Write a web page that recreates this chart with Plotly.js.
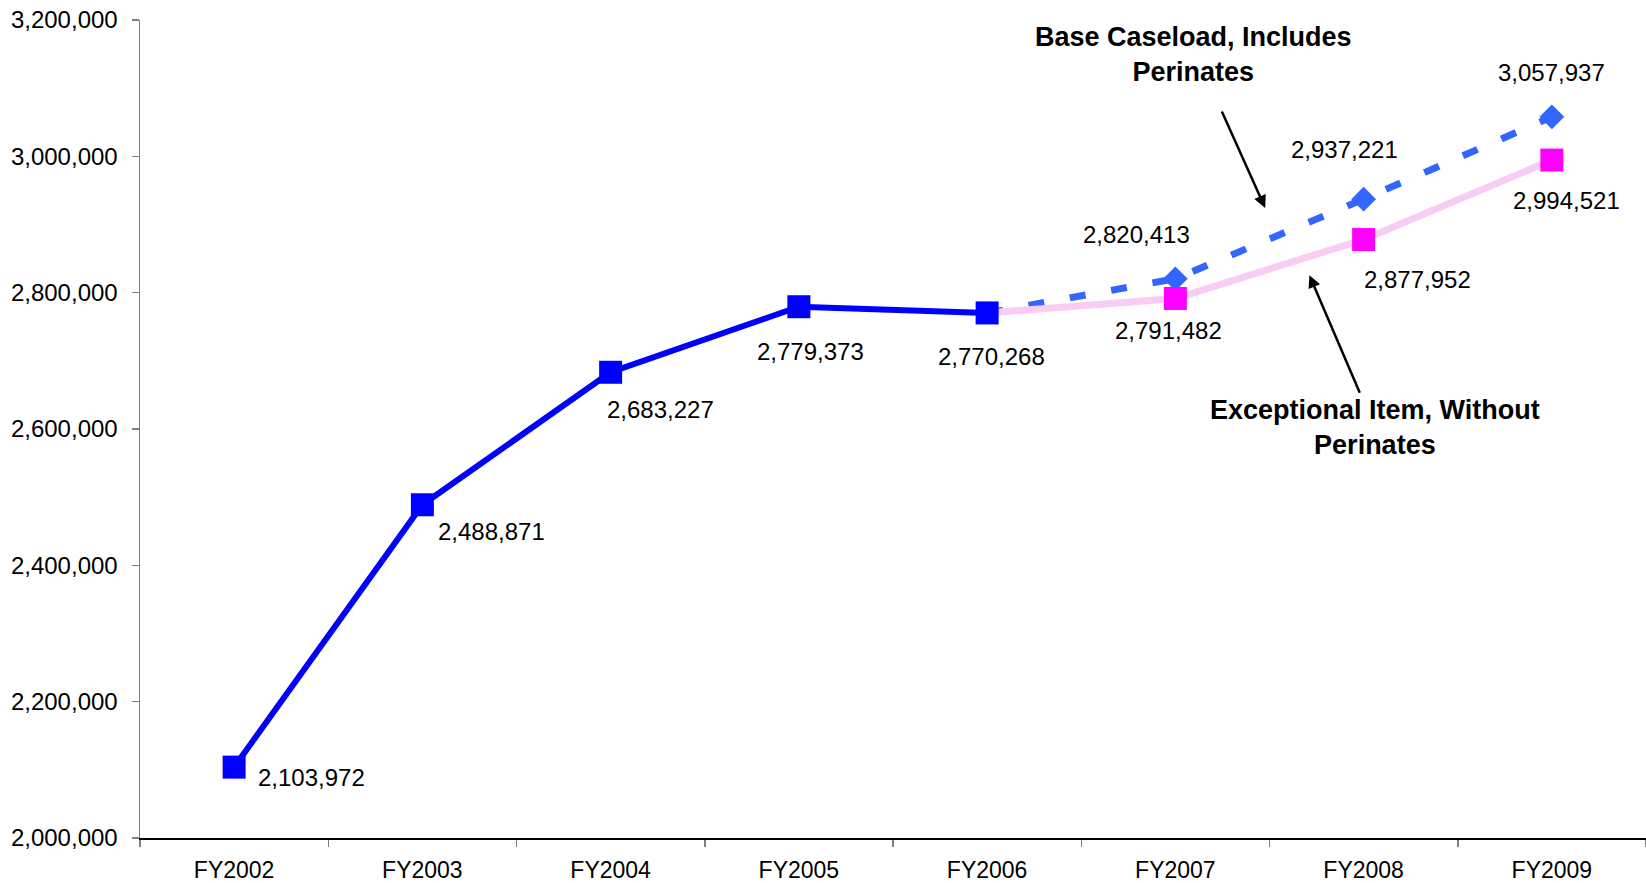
<!DOCTYPE html>
<html>
<head>
<meta charset="utf-8">
<script src="https://cdn.plot.ly/plotly-3.0.1.min.js"></script>
<style>
  html, body { margin: 0; padding: 0; background: #fff; }
  #chart { width: 1646px; height: 883px; }
</style>
</head>
<body>
<div id="chart"></div>
<script>
// Fiscal years on the category axis
const fiscalYears = ['FY2002', 'FY2003', 'FY2004', 'FY2005', 'FY2006', 'FY2007', 'FY2008', 'FY2009'];

// Actual caseload, FY2002 - FY2006
const actualYears = ['FY2002', 'FY2003', 'FY2004', 'FY2005', 'FY2006'];
const actualCaseload = [2103972, 2488871, 2683227, 2779373, 2770268];

// Projections start from the FY2006 actual
const projectionYears = ['FY2006', 'FY2007', 'FY2008', 'FY2009'];
const baseCaseload = [2770268, 2820413, 2937221, 3057937];
const exceptionalCaseload = [2770268, 2791482, 2877952, 2994521];

// Y axis ticks
const yTickValues = [2000000, 2200000, 2400000, 2600000, 2800000, 3000000, 3200000];

// Label placement (pixels right / down from each point)
const actualLabelOffsets = [[77, 10], [69, 27], [50, 37], [12, 45], [4, 44]];
const baseLabelOffsets = [null, [-39, -44], [-19, -50], [0, -44]];
const exceptionalLabelOffsets = [null, [-7, 32], [54, 40], [15, 40]];

const FONT = 'Liberation Sans, Arial, sans-serif';
const fmt = v => v.toLocaleString('en-US');

const traces = [
  {
    x: projectionYears, y: baseCaseload, type: 'scatter', mode: 'lines+markers',
    name: 'Base Caseload, Includes Perinates',
    line: { color: '#3366FF', width: 7, dash: '16px,26px' },
    marker: { symbol: 'diamond', size: 19, color: '#3366FF',
              opacity: [0, 1, 1, 1] }
  },
  {
    x: projectionYears, y: exceptionalCaseload, type: 'scatter', mode: 'lines+markers',
    name: 'Exceptional Item, Without Perinates',
    line: { color: '#F9CCF4', width: 7 },
    marker: { symbol: 'square', size: 23, color: '#FF00FF',
              opacity: [0, 1, 1, 1] }
  },
  {
    x: actualYears, y: actualCaseload, type: 'scatter', mode: 'lines+markers',
    name: 'Caseload',
    line: { color: '#0000FF', width: 6 },
    marker: { symbol: 'square', size: 23, color: '#0000FF' }
  }
];

const annotations = [];
function addLabels(xs, ys, offsets) {
  xs.forEach((x, i) => {
    const off = offsets[i];
    if (!off) return;
    annotations.push({
      x: x, y: ys[i], xref: 'x', yref: 'y', text: fmt(ys[i]), showarrow: false,
      xanchor: 'center', yanchor: 'middle', xshift: off[0], yshift: -off[1],
      font: { family: FONT, size: 24, color: '#000' }
    });
  });
}
addLabels(actualYears, actualCaseload, actualLabelOffsets);
addLabels(projectionYears, baseCaseload, baseLabelOffsets);
addLabels(projectionYears, exceptionalCaseload, exceptionalLabelOffsets);

// Callout captions
annotations.push({
  x: 5.095, y: 3150000, xref: 'x', yref: 'y', showarrow: false,
  text: 'Base Caseload, Includes<br>Perinates', align: 'center',
  xanchor: 'center', yanchor: 'middle',
  font: { family: FONT, size: 27, color: '#000', weight: 700 }
});
annotations.push({
  x: 6.062, y: 2601500, xref: 'x', yref: 'y', showarrow: false,
  text: 'Exceptional Item, Without<br>Perinates', align: 'center',
  xanchor: 'center', yanchor: 'middle',
  font: { family: FONT, size: 27, color: '#000', weight: 700 }
});

// Callout arrows
annotations.push({
  x: 5.477, y: 2924300, xref: 'x', yref: 'y', text: '', showarrow: true,
  ax: -44, ay: -98, arrowhead: 2, arrowsize: 1, arrowwidth: 2.5, arrowcolor: '#000', standoff: 0
});
annotations.push({
  x: 5.712, y: 2825700, xref: 'x', yref: 'y', text: '', showarrow: true,
  ax: 51, ay: 119, arrowhead: 2, arrowsize: 1, arrowwidth: 2.5, arrowcolor: '#000', standoff: 0
});

const layout = {
  width: 1646, height: 883,
  margin: { l: 140, r: 0, t: 20, b: 45 },
  paper_bgcolor: '#fff', plot_bgcolor: '#fff',
  showlegend: false,
  font: { family: FONT, size: 24, color: '#000' },
  xaxis: {
    type: 'category', categoryorder: 'array', categoryarray: fiscalYears,
    range: [-0.5, 7.5], fixedrange: true,
    showline: true, linecolor: '#000', linewidth: 1.5,
    showgrid: false, zeroline: false,
    ticks: 'outside', tickson: 'boundaries', ticklen: 7, tickwidth: 1.5, tickcolor: '#808080',
    ticklabelstandoff: 11,
    tickfont: { family: FONT, size: 23, color: '#000' }
  },
  yaxis: {
    range: [2000000, 3200000], fixedrange: true,
    tickvals: yTickValues, ticktext: yTickValues.map(fmt),
    showline: true, linecolor: '#808080', linewidth: 1.5,
    showgrid: false, zeroline: false,
    ticks: 'outside', ticklen: 7, tickwidth: 1.5, tickcolor: '#808080',
    ticklabelstandoff: 9,
    tickfont: { family: FONT, size: 24, color: '#000' }
  },
  annotations: annotations
};

Plotly.newPlot('chart', traces, layout, { displayModeBar: false, staticPlot: true });
</script>
</body>
</html>
